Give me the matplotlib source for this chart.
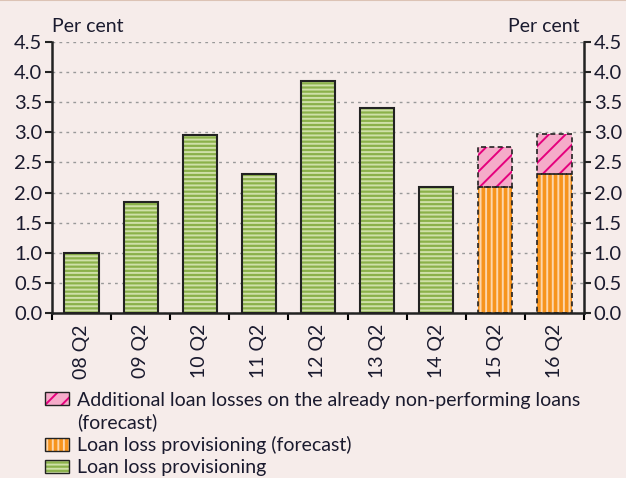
import numpy as np
import matplotlib.pyplot as plt
from matplotlib.patches import Patch
from matplotlib.ticker import MultipleLocator

plt.rcParams['font.family'] = ['Lato', 'DejaVu Sans']
plt.rcParams['hatch.linewidth'] = 1.4

quarters = ['08 Q2', '09 Q2', '10 Q2', '11 Q2', '12 Q2', '13 Q2', '14 Q2', '15 Q2', '16 Q2']
provisioning = [1.0, 1.85, 2.95, 2.3, 3.85, 3.4, 2.1, np.nan, np.nan]
provisioning_fc = [np.nan] * 7 + [2.09, 2.31]
additional_fc = [np.nan] * 7 + [0.66, 0.66]

bg = '#f6ecea'
green, green_l = '#8bb14a', '#cfe0a8'
orange, orange_l = '#f7941d', '#fcd6ad'
pink, magenta = '#f5abc9', '#e5007d'
edge = '#222222'
txt = '#1a1a2e'
fs = 14

fig = plt.figure(figsize=(6.26, 4.78), dpi=100, facecolor=bg)
ax = fig.add_axes([52 / 626, 1 - 313 / 478, 532 / 626, 271 / 478])
ax.set_facecolor(bg)

x = np.arange(len(quarters))
w = 0.58
base_fc = np.nan_to_num(provisioning_fc)

# hatched fills first, outlines on top so the hatch colour stays independent
ax.bar(x, provisioning, w, color=green, edgecolor=green_l, hatch='----', lw=0, zorder=2)
ax.bar(x, provisioning, w, fill=False, edgecolor=edge, lw=1.5, zorder=3)
ax.bar(x, provisioning_fc, w, color=orange, edgecolor=orange_l, hatch='|||', lw=0, zorder=2)
ax.bar(x, provisioning_fc, w, fill=False, edgecolor=edge, lw=1.2, ls=(0, (3, 2)), zorder=3)
ax.bar(x, additional_fc, w, bottom=base_fc, color=pink, edgecolor=magenta, hatch='//', lw=0, zorder=2)
ax.bar(x, additional_fc, w, bottom=base_fc, fill=False, edgecolor=edge, lw=1.2, ls=(0, (3, 2)), zorder=3)

ax.set_xlim(-0.5, len(quarters) - 0.5)
ax.set_ylim(0, 4.5)
ax.yaxis.set_major_locator(MultipleLocator(0.5))
ax.yaxis.set_major_formatter(lambda v, p: f'{v:.1f}')
ax.grid(axis='y', color='#999999', ls=(0, (2, 3)), lw=1, zorder=0)
ax.set_axisbelow(True)

ax.set_xticks(x)
ax.set_xticklabels(quarters, rotation=90)
ax.set_xticks(np.arange(len(quarters) + 1) - 0.5, minor=True)
ax.tick_params(axis='x', which='major', length=0, pad=8, labelsize=fs)
ax.tick_params(axis='x', which='minor', length=5, width=1.5, direction='out')
ax.tick_params(axis='y', which='major', length=5, width=1.5, direction='out',
               right=True, labelright=True, labelsize=fs + 0.5, pad=2)
ax.tick_params(axis='both', colors='#222222', labelcolor=txt)

for side in ['left', 'right', 'bottom']:
    ax.spines[side].set_linewidth(1.8)
    ax.spines[side].set_color('#222222')
ax.spines['top'].set_visible(False)

fig.text(52 / 626, 1 - 27 / 478, 'Per cent', fontsize=fs, va='center', ha='left', color=txt)
fig.text(579 / 626, 1 - 27 / 478, 'Per cent', fontsize=fs, va='center', ha='right', color=txt)

# top border line
fig.add_artist(plt.Line2D([0, 1], [0.999, 0.999], color='#dcc3b5', lw=1.5))

h_pink = (Patch(facecolor=pink, edgecolor=magenta, hatch='//', lw=0),
          Patch(fill=False, edgecolor=edge, lw=1))
h_blank = Patch(fill=False, lw=0, alpha=0)
h_orange = (Patch(facecolor=orange, edgecolor=orange_l, hatch='|||', lw=0),
            Patch(fill=False, edgecolor=edge, lw=1))
h_green = (Patch(facecolor=green, edgecolor=green_l, hatch='----', lw=0),
           Patch(fill=False, edgecolor=edge, lw=1))
fig.legend([h_pink, h_blank, h_orange, h_green],
           ['Additional loan losses on the already non-performing loans', '(forecast)',
            'Loan loss provisioning (forecast)', 'Loan loss provisioning'],
           loc='upper left', bbox_to_anchor=(29 / 626, 1 - 376 / 478),
           frameon=False, fontsize=fs, handlelength=1.25, handleheight=0.65,
           handletextpad=0.4, labelspacing=0.25, labelcolor=txt,
           borderpad=0.3)

fig.savefig('out.png', dpi=100, facecolor=bg)
